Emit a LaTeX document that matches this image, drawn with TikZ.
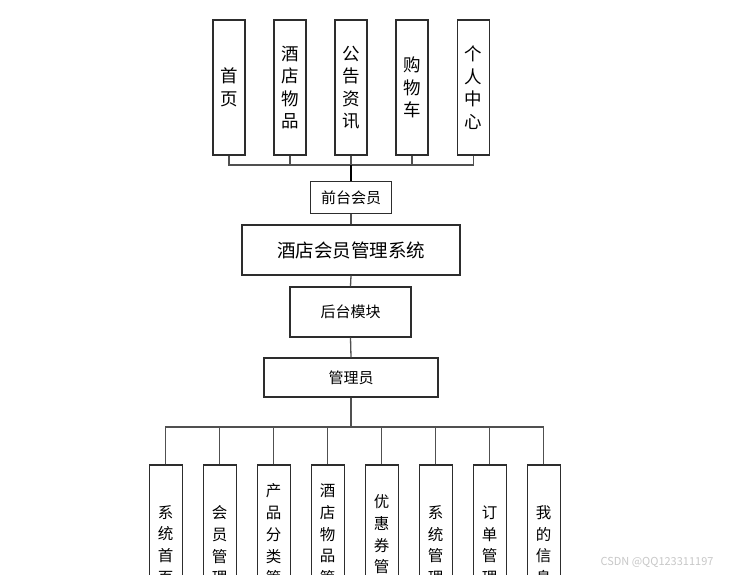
\documentclass[tikz,border=0pt]{standalone}
\usepackage{fontspec}
\setmainfont{Noto Sans CJK SC}
\newfontfamily\cjk{Noto Sans CJK SC}
\definecolor{boxline}{RGB}{45,45,45}
\definecolor{conline}{RGB}{80,80,80}
\definecolor{wm}{RGB}{200,200,200}
\begin{document}
\begin{tikzpicture}[x=1pt,y=-1pt,
  topbox/.style={draw=boxline,line width=1.3pt,fill=white,minimum width=32pt,minimum height=135pt,inner sep=0pt,align=center,font=\cjk\fontsize{17.5}{22.5}\selectfont},
  botbox/.style={draw=boxline,line width=1.3pt,fill=white,minimum width=33pt,minimum height=160pt,inner sep=0pt,align=center,font=\cjk\fontsize{15.5}{21.7}\selectfont},
  hbox/.style={draw=boxline,line width=1.3pt,fill=white,inner sep=0pt,font=\cjk\fontsize{15}{18}\selectfont},
  con/.style={draw=conline,line width=1.3pt},
  trunk/.style={draw=black,line width=2pt}]
\clip (0,0) rectangle (744,575);
\fill[white] (0,0) rectangle (744,575);
% top boxes
\node[topbox] (t1) at (229,87.5) {首\\页};
\node[topbox] (t2) at (290,87.5) {酒\\店\\物\\品};
\node[topbox] (t3) at (351,87.5) {公\\告\\资\\讯};
\node[topbox] (t4) at (412,87.5) {购\\物\\车};
\node[topbox] (t5) at (473.5,87.5) {个\\人\\中\\心};
% middle boxes
\node[hbox,minimum width=80.6pt,minimum height=31.6pt] (qt) at (351,197.5) {前台会员};
\node[hbox,minimum width=218pt,minimum height=50pt,font=\cjk\fontsize{18.5}{22}\selectfont] (sys) at (351,250) {酒店会员管理系统};
\node[hbox,minimum width=121pt,minimum height=50pt] (ht) at (350.5,312) {后台模块};
\node[hbox,minimum width=174pt,minimum height=39pt] (gly) at (351,377.5) {管理员};
% bottom boxes
\node[botbox] (b1) at (165.7,545) {系\\统\\首\\页};
\node[botbox] (b2) at (219.7,545) {会\\员\\管\\理};
\node[botbox] (b3) at (273.7,545) {产\\品\\分\\类\\管\\理};
\node[botbox] (b4) at (327.7,545) {酒\\店\\物\\品\\管\\理};
\node[botbox] (b5) at (381.7,545) {优\\惠\\券\\管\\理};
\node[botbox] (b6) at (435.7,545) {系\\统\\管\\理};
\node[botbox] (b7) at (489.7,545) {订\\单\\管\\理};
\node[botbox] (b8) at (543.7,545) {我\\的\\信\\息};
% top connectors
\coordinate (tbus) at (351,165);
\foreach \n in {t1,t2,t3,t4,t5}{
  \draw[con] (\n.south) |- (tbus);
}
\draw[trunk] (t3.south |- tbus) -- (qt.north);
\draw[con] (qt.south) -- (sys.north);
\draw[con] (sys.south) -- (ht.north);
\draw[con] (ht.south) -- (gly.north);
% bottom connectors
\coordinate (bbus) at (351,427);
\draw[con] (gly.south) -- (bbus);
\foreach \n in {b1,b2,b3,b4,b5,b6,b7,b8}{
  \draw[con] (\n.north) |- (bbus);
}
% watermark
\node[font=\fontsize{11}{13}\selectfont,text=wm] (wmk) at (657,562) {CSDN @QQ123311197};
\end{tikzpicture}
\end{document}
